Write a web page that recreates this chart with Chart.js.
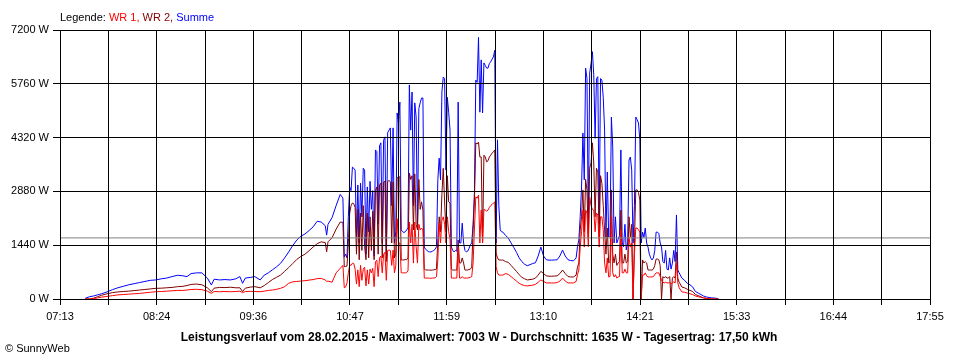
<!DOCTYPE html>
<html lang="de">
<head>
<meta charset="UTF-8">
<title>Leistungsverlauf 28.02.2015</title>
<script src="https://cdn.jsdelivr.net/npm/chart.js"></script>
<style>
  body { margin: 0; background: #fff; }
  .wrap { position: relative; width: 960px; height: 360px; font-family: "Liberation Sans", Arial, sans-serif; font-size: 11px; line-height: 13px; color: #000; }
  .wrap canvas { position: absolute; left: 0; top: 0; }
  .legende { position: absolute; left: 60px; top: 11px; }
  .caption { position: absolute; left: 0; width: 958px; top: 330px; text-align: center; font-weight: bold; font-size: 12px; line-height: 14px; }
  .copy { position: absolute; left: 5px; top: 342px; }
</style>
</head>
<body>
<div class="wrap">
  <canvas id="chart" width="960" height="360"></canvas>
  <div class="legende">Legende: <span style="color:#ff0000">WR 1,</span> <span style="color:#800000">WR 2,</span> <span style="color:#0000ff">Summe</span></div>
  <div class="caption" id="caption"></div>
  <div class="copy">&copy; SunnyWeb</div>
</div>
<script>
// sample times (HH:MM)
const times = [
  '07:32','07:35','07:38','07:41','07:44','07:48','07:52','07:56','08:00','08:04',
  '08:08','08:12','08:16','08:20','08:24','08:28','08:32','08:36','08:40','08:44',
  '08:47','08:50','08:54','08:58','09:02','09:05','09:07','09:11','09:15','09:19',
  '09:23','09:26','09:28','09:30','09:34','09:37','09:41','09:44','09:47','09:50',
  '09:53','09:56','09:59','10:02','10:05','10:08','10:11','10:14','10:17','10:20',
  '10:23','10:26','10:29','10:30','10:31','10:34','10:37','10:40','10:42',
  '10:43','10:44','10:45','10:46','10:47','10:48','10:49','10:50','10:51','10:52',
  '10:53','10:54','10:55','10:56','10:57','10:58','10:59','11:00','11:01','11:02',
  '11:03','11:04','11:05','11:06','11:07','11:08','11:09','11:10','11:11','11:12',
  '11:13','11:14','11:15','11:16','11:17','11:18','11:19','11:20','11:21','11:22',
  '11:23','11:24','11:25','11:26','11:27','11:28','11:29','11:30','11:31','11:32',
  '11:33','11:34','11:35','11:36','11:37','11:38','11:39','11:40','11:41','11:42',
  '11:43','11:44','11:45','11:46','11:47','11:48','11:49','11:50','11:51','11:52',
  '11:53','11:54','11:55','11:56','11:57','11:58','11:59','12:00','12:01','12:02',
  '12:03','12:04','12:05','12:06','12:07','12:08','12:09','12:10','12:11','12:12',
  '12:13','12:14','12:15','12:16','12:17','12:18','12:19','12:20','12:21','12:22',
  '12:23','12:24','12:25','12:26','12:27','12:28','12:29','12:30','12:31','12:32',
  '12:33','12:34','12:35','12:36','12:37','12:38','12:39','12:40',
  '12:42','12:44','12:46','12:48','12:50','12:52','12:54','12:56','12:58','13:00',
  '13:02','13:04','13:06','13:08','13:10','13:12','13:14','13:16','13:18','13:20',
  '13:22','13:24','13:26','13:28','13:30','13:32','13:34','13:35','13:36',
  '13:37','13:38','13:39','13:40','13:41','13:42','13:43','13:44','13:45','13:46',
  '13:47','13:48','13:49','13:50','13:51','13:52','13:53','13:54','13:55','13:56',
  '13:57','13:58','13:59','14:00','14:01','14:02','14:03','14:04','14:05','14:06',
  '14:07','14:08','14:09','14:10','14:11','14:12','14:13','14:14','14:15','14:16',
  '14:17','14:18','14:19','14:20','14:21','14:22','14:23','14:24','14:25','14:26',
  '14:27','14:28','14:29','14:30','14:31','14:32','14:33','14:34','14:35','14:36',
  '14:37','14:38','14:39','14:40','14:41','14:42','14:43','14:44','14:45','14:46',
  '14:47','14:48','14:49','14:50',
  '14:52','14:54','14:56','14:58','15:00','15:02','15:04','15:06','15:08','15:10',
  '15:12','15:14','15:16','15:18','15:19'
];

// Summe (W)
const summe = [
  20,60,80,110,140,190,250,300,340,380,
  410,440,470,500,510,540,560,600,635,620,
  600,680,700,700,560,375,530,510,520,510,
  540,600,420,560,580,600,510,640,700,780,
  860,955,1100,1260,1430,1580,1680,1740,1830,1930,
  2080,2060,1960,1710,2000,2180,2500,2800,2700,
  1120,1200,1100,2200,3000,2900,3530,3500,3450,1660,
  3050,1500,3100,2200,3500,3450,1200,3000,1800,3150,
  2400,2900,1150,3990,3950,2000,4100,4180,1500,4250,
  4340,1200,4450,4520,4580,2500,4580,1500,1800,4980,
  4700,5270,1850,1800,1780,1800,1850,1900,5730,4520,
  5540,2500,5250,4870,2000,5100,5250,5380,5380,1390,
  1330,1300,1270,1260,1260,1280,1300,1330,1400,3190,
  3770,3190,5540,5940,5900,3450,5400,5000,4520,1390,
  1300,1260,1300,1280,5270,1500,1500,2030,1500,1300,
  1260,1280,1350,1450,1500,2000,2840,5860,5800,7003,
  5000,6400,4980,6320,6250,6180,6180,6300,6350,6420,
  6480,6660,1500,4260,2500,1850,1800,1790,
  1700,1630,1500,1380,1250,1100,1000,930,890,920,
  950,970,1150,1390,1150,1050,1040,1040,1045,1050,
  1150,1310,1150,1050,1030,1020,1100,1400,1580,
  2200,3000,4440,3190,6180,5900,2000,6050,6300,6620,
  6000,4300,5900,5950,2000,5900,5860,5400,4520,1650,
  3400,1660,1700,4870,4070,1500,2200,1500,1600,1700,
  3990,1500,1400,2000,1310,1500,3720,3800,3450,1500,
  2500,4870,4800,4710,4260,1500,1790,1650,1900,1500,
  1390,1200,1100,1045,1100,1300,1790,1790,1750,1500,
  1390,1000,960,1300,800,775,1100,800,960,1300,
  1000,2250,775,700,
  560,500,420,380,320,200,160,120,80,55,
  40,30,25,15,0
];

// WR 2 (W)
const wr2 = [
  0,0,20,60,100,140,170,190,200,210,
  225,240,255,270,285,290,300,310,330,340,
  360,390,400,380,300,195,290,310,305,315,
  300,300,200,290,320,330,300,360,440,520,
  580,640,740,840,950,1060,1140,1200,1290,1390,
  1480,1530,1510,1265,1530,1640,1870,2060,2050,
  865,870,880,1500,2300,2500,2570,2550,2450,1200,
  2400,1050,2300,1300,2500,1400,1050,2300,1100,2200,
  1300,2350,1050,2900,3000,1200,3050,3100,1100,3130,
  3150,1000,3150,3170,3140,1500,3130,1100,1200,3250,
  3270,3270,1045,1045,1045,1060,1050,1100,3370,3200,
  3300,1850,3350,2000,1850,3200,2400,2600,2380,800,
  780,775,775,775,770,775,780,790,800,1580,
  2200,1800,2800,3500,2600,1800,3300,2600,2570,800,
  775,775,775,775,1580,965,965,1100,965,775,
  775,775,790,800,850,1850,2650,4180,4150,4200,
  3800,3800,1500,3850,3800,3670,3700,3800,3850,3900,
  3940,3990,1230,1100,1045,1045,1040,1045,
  1000,980,900,820,740,650,580,540,510,520,
  530,560,640,740,680,620,610,610,615,620,
  680,775,680,600,590,590,640,850,965,
  1850,2200,2920,1800,3200,2920,1600,3500,3640,4180,
  3640,2200,3500,3400,1660,3300,3100,2500,1850,1200,
  1900,965,1000,2920,1200,965,1200,900,965,1000,
  2380,965,965,1200,965,1000,2200,1660,2000,0,
  1500,2920,2920,2850,2650,0,1045,965,1000,965,
  775,775,775,775,800,900,1070,1070,1050,900,
  0,600,560,600,560,560,600,0,560,600,
  560,1260,560,450,
  320,300,260,230,200,120,90,60,30,10,
  0,0,0,0,0
];

// WR 1 (W)
const wr1 = [
  0,0,10,30,50,70,90,110,120,130,
  140,150,165,180,195,200,210,220,230,230,
  240,255,260,250,210,150,200,195,200,195,
  200,210,170,200,205,200,195,210,230,240,
  260,285,330,420,460,470,480,490,505,520,
  545,550,510,470,480,450,700,820,900,
  300,320,430,700,910,900,960,950,800,400,
  780,330,900,500,800,850,350,780,400,800,
  700,820,330,1000,1040,600,1100,1150,700,1200,
  1250,500,1300,1310,1300,900,1310,700,900,2150,
  1500,1500,700,700,700,700,710,750,2060,1500,
  2000,960,2060,1400,960,2000,1850,1900,1850,560,
  560,560,560,555,555,560,560,570,600,1045,
  2030,1500,2100,2200,2000,1500,2200,1800,1600,560,
  560,560,560,560,1390,560,560,600,560,560,
  560,560,570,580,600,965,1850,2730,2700,2780,
  1500,2380,1500,2400,2380,2350,2380,2450,2500,2530,
  2570,2600,865,700,640,640,640,640,
  680,660,600,540,480,420,380,360,350,360,
  370,390,450,510,470,430,430,430,430,440,
  480,560,480,430,430,430,470,650,775,
  1390,1800,2380,1390,2380,2300,1400,2730,2500,2400,
  2380,1800,2300,2250,1390,2200,2200,1850,965,700,
  1100,590,600,2200,700,590,650,560,590,600,
  1850,700,700,800,700,700,1660,1390,1500,0,
  1200,1900,1900,1850,1790,0,640,640,700,620,
  590,590,590,590,600,650,700,700,700,600,
  500,450,430,450,430,430,450,400,430,460,
  430,965,430,300,
  190,180,160,140,120,80,60,45,30,20,
  10,0,0,0,0
];

const tickLabels = ['07:13','08:24','09:36','10:47','11:59','13:10','14:21','15:33','16:44','17:55'];
const avgWatt = 1635;
const yMax = 7200;
const yStep = 1440;
const xMin = 7 * 60 + 13 + 1 / 3;
const xMax = 17 * 60 + 55;

function toMin(s) {
  const p = s.split(':').map(Number);
  return p[0] * 60 + p[1];
}
const xs = times.map(toMin);
const pts = arr => arr.map((v, i) => ({ x: xs[i], y: v }));

document.getElementById('caption').textContent =
  'Leistungsverlauf vom 28.02.2015 - Maximalwert: ' + Math.max(...summe) +
  ' W - Durchschnitt: ' + avgWatt + ' W - Tagesertrag: 17,50 kWh';

const font = { family: '"Liberation Sans", Arial, sans-serif', size: 11 };
const lineStyle = { borderWidth: 1, pointRadius: 0, tension: 0, borderJoinStyle: 'bevel', fill: false };

new Chart(document.getElementById('chart'), {
  type: 'line',
  data: {
    datasets: [
      { label: 'Durchschnitt', data: [{ x: xMin, y: avgWatt }, { x: xMax, y: avgWatt }], borderColor: '#808080', order: 0, ...lineStyle },
      { label: 'WR 1', data: pts(wr1), borderColor: '#ff0000', order: 1, ...lineStyle },
      { label: 'WR 2', data: pts(wr2), borderColor: '#800000', order: 2, ...lineStyle },
      { label: 'Summe', data: pts(summe), borderColor: '#0000ff', order: 3, ...lineStyle }
    ]
  },
  options: {
    responsive: false,
    devicePixelRatio: 1,
    animation: false,
    layout: { padding: { left: 0, right: 30, top: 30, bottom: 31 } },
    plugins: { legend: { display: false }, tooltip: { enabled: false }, title: { display: false } },
    scales: {
      x: {
        type: 'linear',
        min: xMin,
        max: xMax,
        afterBuildTicks: s => {
          s.ticks = [];
          for (let i = 0; i <= 18; i++) s.ticks.push({ value: xMin + i * (xMax - xMin) / 18 });
        },
        afterFit: s => { s.height = 30; },
        ticks: {
          autoSkip: false, maxRotation: 0, padding: 5, color: '#000', font,
          callback: (v, i) => (i % 2 === 0 ? tickLabels[i / 2] : '')
        },
        grid: { color: '#000', lineWidth: 1, tickLength: 6, z: 1 },
        border: { color: '#000', z: 2 }
      },
      y: {
        min: 0,
        max: yMax,
        afterFit: s => { s.width = 60; },
        ticks: { stepSize: yStep, padding: 4, color: '#000', font, callback: v => v + ' W' },
        grid: { color: '#000', lineWidth: 1, tickLength: 7, z: 1 },
        border: { color: '#000', z: 2 }
      }
    }
  }
});
</script>
</body>
</html>
